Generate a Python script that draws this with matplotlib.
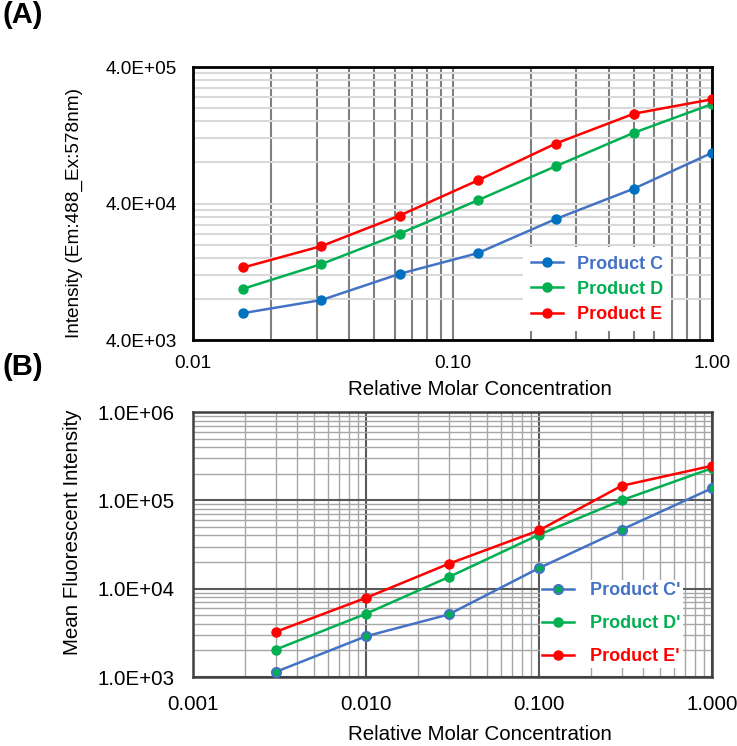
import numpy as np
import matplotlib
matplotlib.use("Agg")
import matplotlib.pyplot as plt
from matplotlib.ticker import FixedLocator, LogLocator, FuncFormatter, NullFormatter

plt.rcParams['font.family'] = ['Liberation Sans', 'DejaVu Sans']

# Panel A data
conc_a = [0.015625, 0.03125, 0.0625, 0.125, 0.25, 0.5, 1.0]
prod_c = [6.3e3, 7.85e3, 1.22e4, 1.73e4, 3.08e4, 5.14e4, 9.4e4]
prod_d = [9.5e3, 1.44e4, 2.4e4, 4.22e4, 7.5e4, 1.32e5, 2.14e5]
prod_e = [1.36e4, 1.95e4, 3.26e4, 5.9e4, 1.1e5, 1.82e5, 2.32e5]

# Panel B data
conc_b = [0.003, 0.01, 0.03, 0.1, 0.3, 1.0]
prod_c2 = [1.14e3, 2.89e3, 5.1e3, 1.71e4, 4.65e4, 1.37e5]
prod_d2 = [2.04e3, 5.2e3, 1.35e4, 4.08e4, 1.0e5, 2.31e5]
prod_e2 = [3.24e3, 7.87e3, 1.91e4, 4.57e4, 1.46e5, 2.46e5]

BLUE = '#4472C4'
BLUE_M = '#0070C0'
GREEN = '#00B050'
RED = '#FF0000'

fig = plt.figure(figsize=(7.37, 7.46), dpi=100)
W, H = 737, 746

def px_axes(l, t, r, b):
    return fig.add_axes([l / W, 1 - b / H, (r - l) / W, (b - t) / H])

# ---------------- Panel A ----------------
ax = px_axes(193, 67, 712, 340)
ax.set_xscale('log')
ax.set_yscale('log')
ax.set_xlim(0.01, 1.0)
ax.set_ylim(4e3, 4e5)

ax.plot(conc_a, prod_c, color=BLUE, lw=1.8, marker='o', ms=6.5, mfc=BLUE_M, mec=BLUE_M, label='Product C', zorder=3)
ax.plot(conc_a, prod_d, color=GREEN, lw=1.8, marker='o', ms=6.5, mfc=GREEN, mec=GREEN, label='Product D', zorder=3)
ax.plot(conc_a, prod_e, color=RED, lw=1.8, marker='o', ms=6.5, mfc=RED, mec=RED, label='Product E', zorder=3)

ax.yaxis.set_major_locator(FixedLocator([4e3, 4e4, 4e5]))
ax.yaxis.set_minor_locator(FixedLocator([4e3 * k for k in range(2, 10)] + [4e4 * k for k in range(2, 10)]))
ax.yaxis.set_major_formatter(FuncFormatter(lambda v, p: f"{v:.1E}"))
ax.yaxis.set_minor_formatter(NullFormatter())
ax.xaxis.set_major_locator(FixedLocator([0.01, 0.1, 1.0]))
ax.xaxis.set_minor_locator(LogLocator(base=10, subs=np.arange(2, 10)))
ax.xaxis.set_major_formatter(FuncFormatter(lambda v, p: f"{v:.2f}"))
ax.xaxis.set_minor_formatter(NullFormatter())

ax.grid(True, axis='y', which='both', color='#d9d9d9', lw=1.5)
ax.grid(True, axis='x', which='both', color='#808080', lw=1.5)
ax.set_axisbelow(True)
for s in ax.spines.values():
    s.set_color('black')
    s.set_linewidth(2)
ax.tick_params(which='both', length=0, labelsize=13.7)
ax.tick_params(axis='y', pad=11.5)
ax.tick_params(axis='x', pad=11)
ax.set_xlabel('Relative Molar Concentration', fontsize=14.8)
ax.xaxis.set_label_coords(0.553, -0.147)
ax.set_ylabel('Intensity (Em:488_Ex:578nm)', fontsize=13.7)
ax.yaxis.set_label_coords(-0.212, 0.467)

leg = ax.legend(loc='lower right', bbox_to_anchor=(0.938, 0.0), frameon=True, fancybox=False,
                edgecolor='none', facecolor='white', framealpha=1, labelcolor='linecolor',
                prop={'weight': 'bold', 'size': 13}, handlelength=1.75, handletextpad=0.75,
                labelspacing=0.45, borderpad=0.45)
leg.set_zorder(5)

fig.text(2 / W, 1 - 15 / H, '(A)', fontsize=21, fontweight='bold', va='center', ha='left')

# ---------------- Panel B ----------------
bx = px_axes(193, 412, 712, 677)
bx.set_xscale('log')
bx.set_yscale('log')
bx.set_xlim(0.001, 1.0)
bx.set_ylim(1e3, 1e6)

bx.plot(conc_b, prod_c2, color=BLUE, lw=1.8, marker='o', ms=6.5, mfc=GREEN, mec=BLUE, mew=1.5, label="Product C'", zorder=3)
bx.plot(conc_b, prod_d2, color=GREEN, lw=1.8, marker='o', ms=6.5, mfc=GREEN, mec=GREEN, label="Product D'", zorder=3)
bx.plot(conc_b, prod_e2, color=RED, lw=1.8, marker='o', ms=6.5, mfc=RED, mec=RED, label="Product E'", zorder=3)

bx.xaxis.set_major_locator(FixedLocator([0.001, 0.01, 0.1, 1.0]))
bx.xaxis.set_minor_locator(LogLocator(base=10, subs=np.arange(2, 10)))
bx.xaxis.set_major_formatter(FuncFormatter(lambda v, p: f"{v:.3f}"))
bx.xaxis.set_minor_formatter(NullFormatter())
bx.yaxis.set_major_locator(FixedLocator([1e3, 1e4, 1e5, 1e6]))
bx.yaxis.set_minor_locator(LogLocator(base=10, subs=np.arange(2, 10)))
bx.yaxis.set_major_formatter(FuncFormatter(lambda v, p: f"{v:.1E}"))
bx.yaxis.set_minor_formatter(NullFormatter())

bx.grid(True, which='minor', color='#a6a6a6', lw=1.0)
bx.grid(True, which='major', color='#595959', lw=1.5)
bx.set_axisbelow(True)
for s in bx.spines.values():
    s.set_color('#404040')
    s.set_linewidth(1.8)
bx.tick_params(which='both', length=0, labelsize=14.8)
bx.tick_params(axis='y', pad=13.5)
bx.tick_params(axis='x', pad=13)
bx.set_xlabel('Relative Molar Concentration', fontsize=14.8)
bx.xaxis.set_label_coords(0.553, -0.181)
bx.set_ylabel('Mean Fluorescent Intensity', fontsize=14.8)
bx.yaxis.set_label_coords(-0.214, 0.545)

leg2 = bx.legend(loc='lower right', bbox_to_anchor=(0.962, 0.0), frameon=True, fancybox=False,
                 edgecolor='none', facecolor='white', framealpha=1, labelcolor='linecolor',
                 prop={'weight': 'bold', 'size': 13}, handlelength=1.75, handletextpad=0.9,
                 labelspacing=0.88, borderpad=0.15)
leg2.set_zorder(5)

fig.text(2 / W, 1 - 367 / H, '(B)', fontsize=21, fontweight='bold', va='center', ha='left')

fig.savefig('out.png', dpi=100)
